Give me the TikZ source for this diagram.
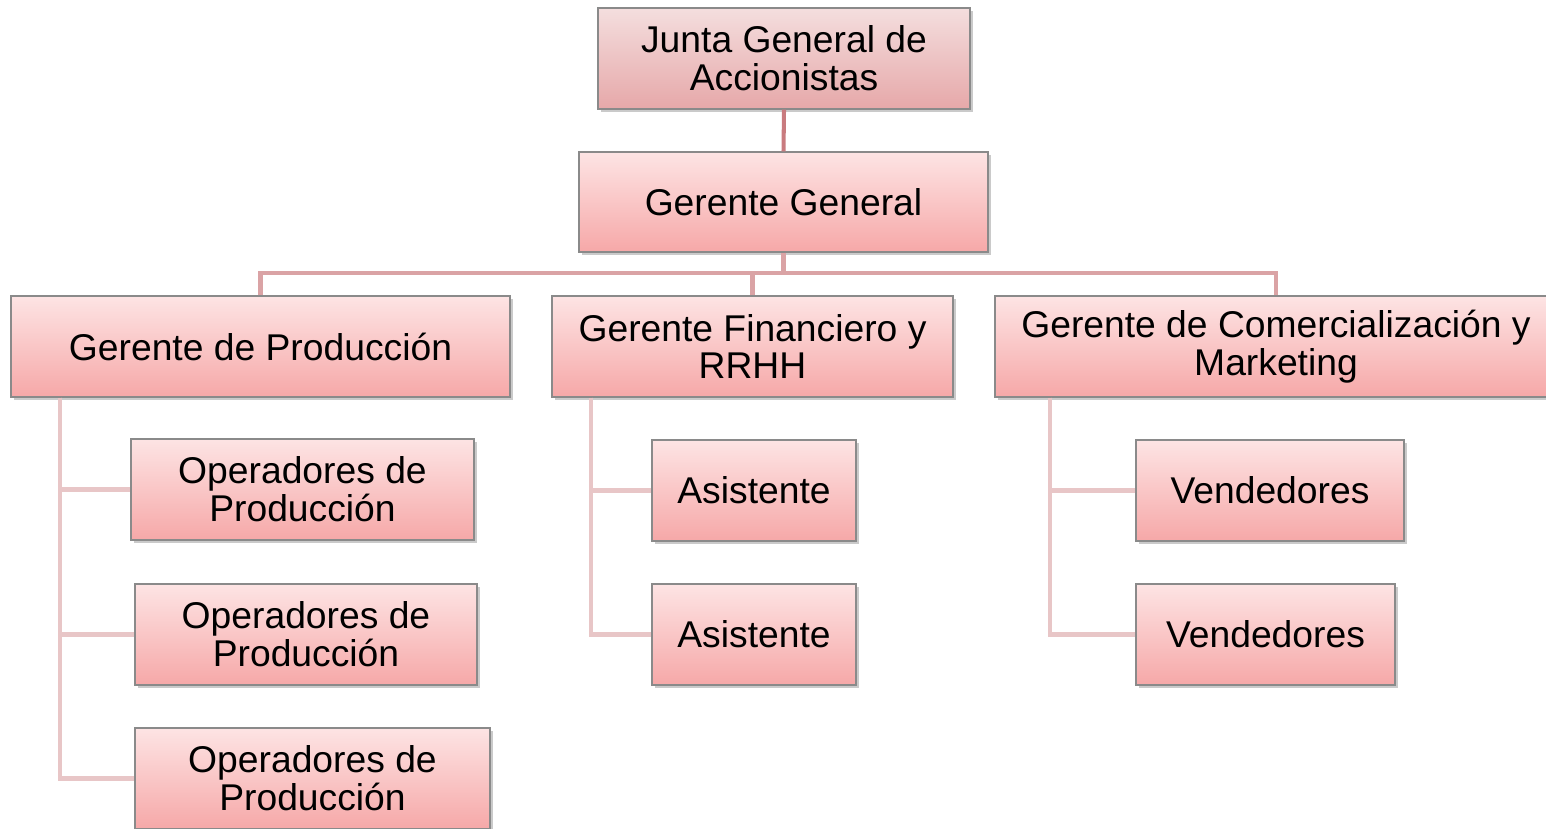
\documentclass[tikz,border=0pt]{standalone}
\usepackage{fontspec}
\setmainfont{Liberation Sans}
\usetikzlibrary{positioning}
\usetikzlibrary{shadows}

\definecolor{boxtop}{HTML}{FDE4E4}
\definecolor{boxbottom}{HTML}{F6A8A8}
\definecolor{juntatop}{HTML}{F4DEDE}
\definecolor{juntabottom}{HTML}{E6A8A9}
\definecolor{boxline}{HTML}{8A8A8A}
\definecolor{linkone}{HTML}{C97B7F}
\definecolor{linktwo}{HTML}{DAA3A5}
\definecolor{linkthree}{HTML}{E8C6C7}

\begin{document}
\begin{tikzpicture}[align=center,
  orgbox/.style={draw=boxline, line width=0.7pt, top color=boxtop, bottom color=boxbottom,
    minimum height=2.02cm, inner sep=0pt,
    font=\fontsize{21.2}{21.5}\selectfont,
    drop shadow={shadow xshift=1.6pt, shadow yshift=-1.6pt, opacity=0.35, fill=black!60}},
  topbox/.style={orgbox, top color=juntatop, bottom color=juntabottom},
  edgeone/.style={draw=linkone, line width=2.3pt},
  edgetwo/.style={draw=linktwo, line width=2.4pt},
  edgethree/.style={draw=linkthree, line width=2.3pt}]
  \useasboundingbox (0,0) rectangle (30.92,-16.58);

  \node[topbox, minimum width=7.44cm] (junta) at (15.68,-1.17) {Junta General de\\Accionistas};
  \node[orgbox, minimum width=8.18cm, minimum height=2cm] (gg) at (15.67,-4.04) {Gerente General};
  \coordinate (bar) at (0,-5.46);

  \node[orgbox, minimum width=9.98cm] (gprod) at (5.21,-6.93) {Gerente de Producción};
  \node[orgbox, minimum width=8.02cm] (gfin) at (15.05,-6.93) {Gerente Financiero y\\RRHH};
  \node[orgbox, minimum width=11.24cm] (gcom) at (25.52,-6.93) {Gerente de Comercialización y\\Marketing};

  \node[orgbox, minimum width=6.86cm] (op1) at (6.05,-9.79) {Operadores de\\Producción};
  \node[orgbox, minimum width=6.84cm] (op2) at (6.12,-12.69) {Operadores de\\Producción};
  \node[orgbox, minimum width=7.10cm] (op3) at (6.25,-15.57) {Operadores de\\Producción};

  \node[orgbox, minimum width=4.08cm] (asis1) at (15.08,-9.81) {Asistente};
  \node[orgbox, minimum width=4.08cm] (asis2) at (15.08,-12.69) {Asistente};

  \node[orgbox, minimum width=5.36cm] (vend1) at (25.40,-9.81) {Vendedores};
  \node[orgbox, minimum width=5.18cm] (vend2) at (25.31,-12.69) {Vendedores};

  \draw[edgeone] (junta.south) -- (gg.north);
  \draw[edgetwo] (gg.south) -- (gg.south |- bar);
  \draw[edgetwo] (gprod.north) |- (bar -| gcom.north) -- (gcom.north);
  \draw[edgetwo] (gfin.north) -- (gfin.north |- bar);

  \draw[edgethree] ([xshift=1cm]gprod.south west) |- (op1.west);
  \draw[edgethree] ([xshift=1cm]gprod.south west) |- (op2.west);
  \draw[edgethree] ([xshift=1cm]gprod.south west) |- (op3.west);
  \draw[edgethree] ([xshift=0.8cm]gfin.south west) |- (asis1.west);
  \draw[edgethree] ([xshift=0.8cm]gfin.south west) |- (asis2.west);
  \draw[edgethree] ([xshift=1.12cm]gcom.south west) |- (vend1.west);
  \draw[edgethree] ([xshift=1.12cm]gcom.south west) |- (vend2.west);
\end{tikzpicture}
\end{document}
